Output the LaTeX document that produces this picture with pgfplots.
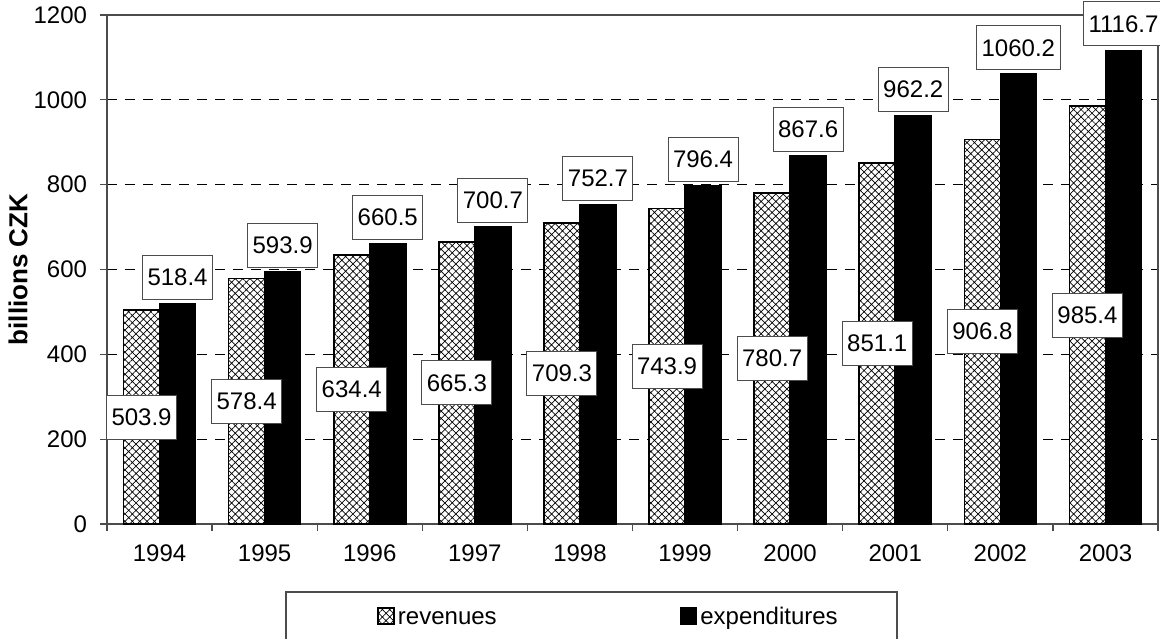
\documentclass[border=0pt]{standalone}
\usepackage{fontspec}
\setmainfont{Liberation Sans}
\usepackage{pgfplots}
\pgfplotsset{compat=1.18}
\usetikzlibrary{patterns.meta}

\begin{document}
\begin{tikzpicture}
\begin{axis}[
 name=ax,
 scale only axis, width=525.5bp, height=254.5bp,
 xmin=-0.5, xmax=9.5, ymin=0, ymax=1200,
 ytick={0,200,...,1200},
 xtick={-0.5,0.5,...,9.5}, xticklabels={},
 extra x ticks={0,1,2,3,4,5,6,7,8,9},
 extra x tick labels={1994,1995,1996,1997,1998,1999,2000,2001,2002,2003},
 extra x tick style={major tick length=0pt, grid=none, tick label style={yshift=-7bp}},
 tick align=outside, major tick length=3.5bp, tick pos=left,
 ymajorgrids, grid style={black, dash pattern=on 5bp off 4bp, line width=0.5bp},
 axis line style={black!70, line width=0.6bp},
 tick style={black!70, line width=0.6bp},
 /pgf/number format/assume math mode=true,
 /pgf/number format/1000 sep={},
 font=\fontsize{12bp}{14bp}\selectfont,
 yticklabel style={xshift=-3bp},
 ylabel={\fontsize{13bp}{15bp}\selectfont\bfseries billions CZK},
 ylabel style={at={(axis description cs:-0.0847,0.5)}, anchor=center},
 ybar=0pt, bar width=18bp,
 clip=false,
 legend columns=2,
 legend style={draw=none, fill=none, inner sep=0pt, at={(axis description cs:0.2569,-0.1807)}, anchor=west,
   font=\fontsize{12bp}{14bp}\selectfont,
   nodes={inner xsep=1.5bp, inner ysep=0pt, text height=11bp, text depth=2.4bp},
   /tikz/every even column/.append style={column sep=90bp}},
 legend image code/.code={\draw[#1] (0bp,-4bp) rectangle (8bp,4bp);},
 every node near coord/.append style={fill=white, draw=black!70, line width=0.5bp, inner xsep=2.5bp, inner ysep=4bp, minimum height=22bp, text=black},
]
\addplot[draw=black, line width=0.8bp, preaction={fill=white},
  pattern={Hatch[angle=45,distance=2.6bp,line width=0.35bp]},
  nodes near coords={\pgfmathprintnumber[fixed,fixed zerofill,precision=1,1000 sep={},assume math mode=true]{\pgfplotspointmeta}},
  visualization depends on=y \as \rawy,
  every node near coord/.append style={anchor=center, shift={(axis direction cs:0,-\rawy/2)}}]
 coordinates {(0,503.9) (1,578.4) (2,634.4) (3,665.3) (4,709.3) (5,743.9) (6,780.7) (7,851.1) (8,906.8) (9,985.4)};
\addlegendentry{revenues}
\addplot[draw=black, fill=black, line width=0.8bp,
  nodes near coords={\pgfmathprintnumber[fixed,fixed zerofill,precision=1,1000 sep={},assume math mode=true]{\pgfplotspointmeta}},
  every node near coord/.append style={anchor=south, yshift=2bp}]
 coordinates {(0,518.4) (1,593.9) (2,660.5) (3,700.7) (4,752.7) (5,796.4) (6,867.6) (7,962.2) (8,1060.2) (9,1116.7)};
\addlegendentry{expenditures}
\end{axis}
\draw[black!70, line width=0.6bp] ([xshift=89.5bp,yshift=-34bp]ax.south west) rectangle ++(305.5bp,-30bp);
\pgfresetboundingbox
\path ([xshift=-53.5bp,yshift=-57.5bp]ax.south west) rectangle ([xshift=1bp,yshift=7.5bp]ax.north east);
\end{tikzpicture}
\end{document}
